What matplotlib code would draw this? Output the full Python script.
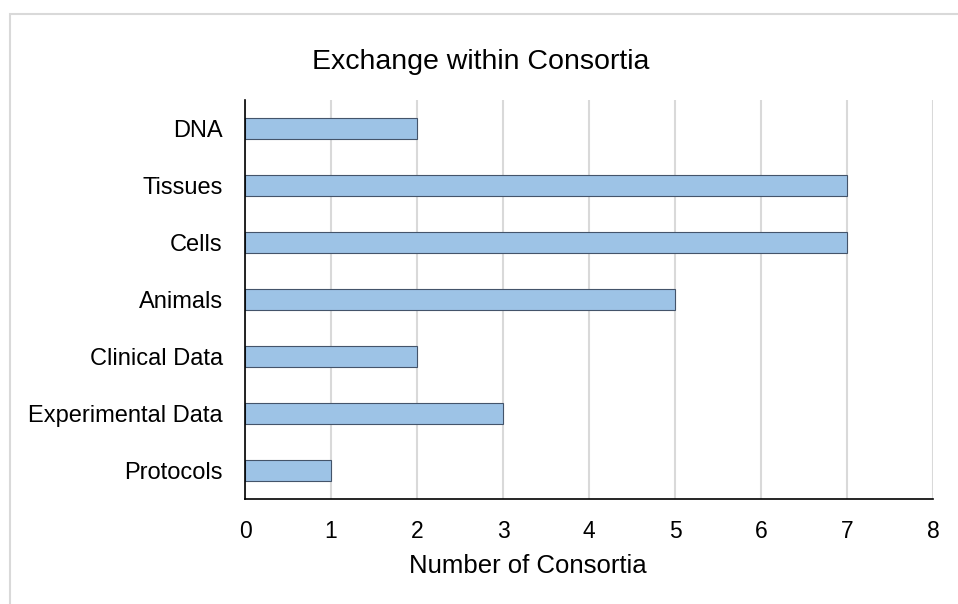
import matplotlib
matplotlib.use("Agg")
import matplotlib.pyplot as plt
from matplotlib.patches import Rectangle

categories = ["DNA", "Tissues", "Cells", "Animals", "Clinical Data",
              "Experimental Data", "Protocols"]
values = [2, 7, 7, 5, 2, 3, 1]
x_ticks = [0, 1, 2, 3, 4, 5, 6, 7, 8]

plt.rcParams["font.family"] = ["Liberation Sans", "DejaVu Sans"]

W, H = 958, 604
fig = plt.figure(figsize=(W / 100, H / 100), dpi=100)

# chart-area frame (only top and left edges fall inside the canvas)
fig.patches.append(Rectangle((10 / W, -0.1), 1.2, 1 - 14 / H + 0.1,
                             transform=fig.transFigure, fill=False,
                             edgecolor="#d9d9d9", linewidth=1.5))

ax = fig.add_axes([245 / W, 1 - 499 / H, (933 - 245) / W, (499 - 100) / H])

ypos = list(range(len(categories)))
ax.barh(ypos, values, height=0.37, color="#9dc3e6",
        edgecolor="#44546a", linewidth=0.8, zorder=3)

ax.set_xlim(0, 8)
ax.set_ylim(len(categories) - 0.5, -0.5)
ax.set_xticks(x_ticks)
ax.set_xticklabels([str(t) for t in x_ticks], fontsize=16.5)
ax.set_yticks(ypos)
ax.set_yticklabels(categories, fontsize=17)
ax.tick_params(length=0)
ax.tick_params(axis="y", pad=16)
ax.tick_params(axis="x", pad=15)

ax.grid(axis="x", color="#d9d9d9", linewidth=1.5, zorder=0)
for s in ["top", "right"]:
    ax.spines[s].set_visible(False)
for s in ["left", "bottom"]:
    ax.spines[s].set_color("black")
    ax.spines[s].set_linewidth(1.2)
    ax.spines[s].set_zorder(4)

fig.text(481 / W, 1 - 69 / H, "Exchange within Consortia", fontsize=20.5,
         ha="center", va="baseline")
fig.text(528 / W, 1 - 573 / H, "Number of Consortia", fontsize=18.5,
         ha="center", va="baseline")

fig.savefig("out.png", dpi=100)
